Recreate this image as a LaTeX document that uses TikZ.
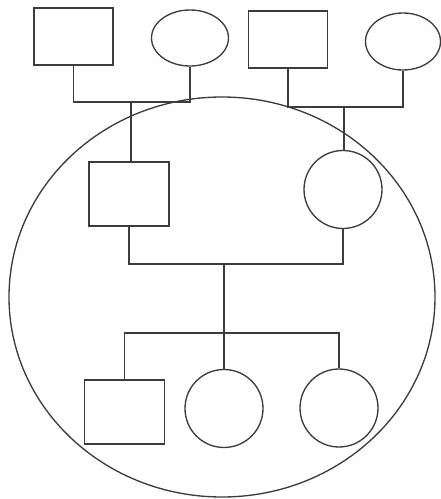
\documentclass[tikz,border=0pt]{standalone}
\usepackage{tikz}
\usetikzlibrary{shapes.geometric}
\definecolor{penline}{HTML}{3C3C3C}
\tikzset{
  male/.style={draw=penline, rectangle, minimum width=39.5mm, minimum height=28.5mm, inner sep=0pt},
  female/.style={draw=penline, ellipse, minimum width=38.5mm, minimum height=28mm, inner sep=0pt},
  kidm/.style={male, minimum width=40mm, minimum height=32mm},
  kidf/.style={draw=penline, circle, minimum size=39mm, inner sep=0pt},
  tie/.style={draw=penline},
}

\begin{document}
\begin{tikzpicture}[x=0.5mm, y=-0.5mm, line width=1.9pt]
  \useasboundingbox (0,0) rectangle (441,499);
  % family ring
  \node[draw=penline, ellipse, minimum width=213mm, minimum height=200mm, inner sep=0pt] (ring) at (222,297) {};
  % grandparents
  \node[male]   (gfa) at (73.5,36.5) {};
  \node[female] (gma) at (190,38) {};
  \node[male]   (gfb) at (288,39.5) {};
  \node[female, minimum width=37.5mm, minimum height=28.5mm] (gmb) at (403,41.5) {};
  % parents
  \node[kidm] (father) at (129,194) {};
  \node[kidf] (mother) at (343,189.5) {};
  % children
  \node[kidm] (son)  at (124.5,412) {};
  \node[kidf] (dau1) at (224,408.5) {};
  \node[kidf] (dau2) at (339,408) {};
  % couples and descent
  \coordinate (ma) at (131,102);
  \coordinate (mb) at (344,107);
  \coordinate (mc) at (224,264);
  \coordinate (sib) at (224,333);
  \draw[tie] (gfa.south) |- (ma) -| (gma.south);
  \draw[tie] (ma) -- (ma |- father.north);
  \draw[tie] (gfb.south) |- (mb) -| (gmb.south);
  \draw[tie] (mb) -- (mb |- mother.north);
  \draw[tie] (father.south) |- (mc) -| (mother.south);
  \draw[tie] (mc) -- (dau1.north);
  \draw[tie] (son.north) |- (sib) -| (dau2.north);
\end{tikzpicture}
\end{document}
